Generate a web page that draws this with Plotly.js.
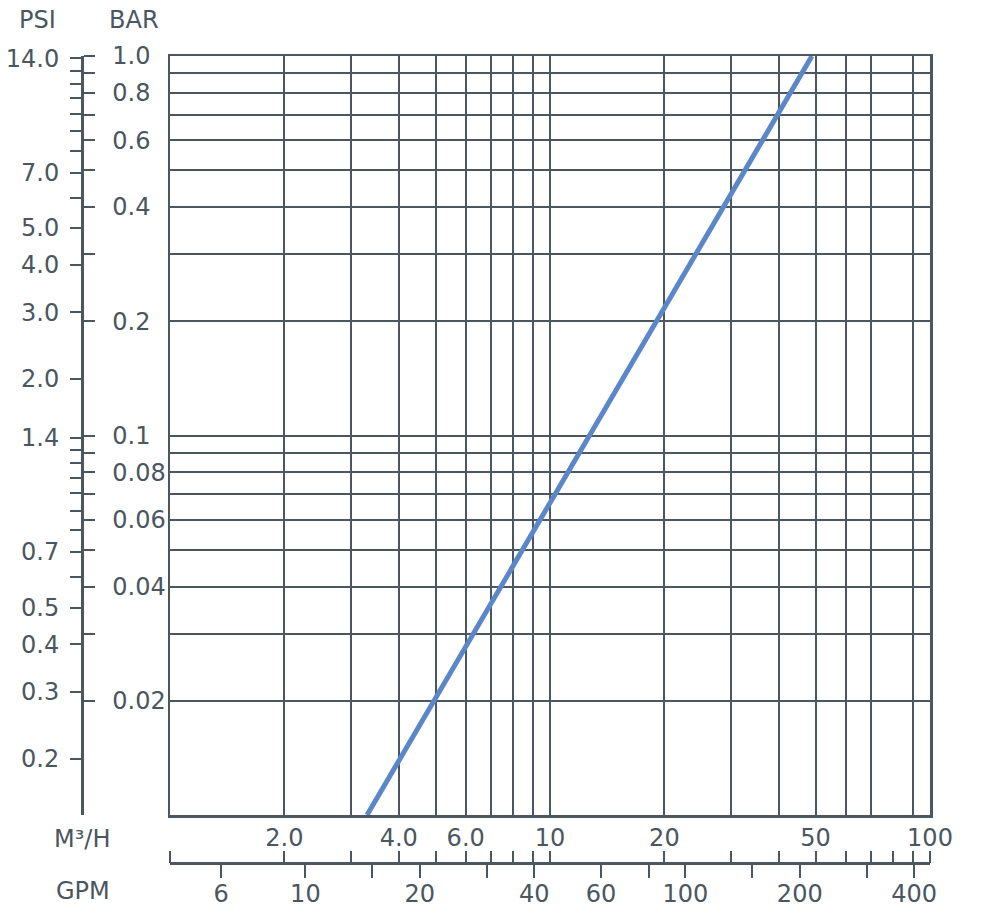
<!DOCTYPE html>
<html>
<head>
<meta charset="utf-8">
<script src="https://cdn.plot.ly/plotly-3.0.1.min.js"></script>
<style>html,body{margin:0;padding:0;background:#fff;}#chart{width:1000px;height:917px;}</style>
</head>
<body>
<div id="chart"></div>
<script>
// ---- data ----
// Flow (m3/h) vs pressure drop (bar): straight line on log-log chart
var flowM3H = [3.3, 48.9];
var dropBar = [0.01, 1.0];

// Axis ranges (linear units)
var flowRange = [1, 100];          // m3/h
var barRange = [0.01, 1.0];        // bar
var GPM_PER_M3H = 4.403;
var PSI_PER_BAR = 14.2;

// Grid lines
var xGridVals = [2, 3, 4, 5, 6, 7, 8, 9, 10, 20, 30, 40, 50, 60, 70, 90, 100];
var yGridVals = [0.02, 0.03, 0.04, 0.05, 0.06, 0.07, 0.08, 0.09, 0.1, 0.2, 0.3, 0.4, 0.5, 0.6, 0.7, 0.8, 0.9, 1.0];

// BAR axis ticks
var barTickVals = [1.0, 0.9, 0.8, 0.7, 0.6, 0.5, 0.4, 0.3, 0.2, 0.1, 0.09, 0.08, 0.07, 0.06, 0.05, 0.04, 0.03, 0.02];
var barTickText = ['1.0', '', '0.8', '', '0.6', '', '0.4', '', '0.2', '0.1', '', '0.08', '', '0.06', '', '0.04', '', '0.02'];

// PSI axis ticks
var psiTickVals = [14, 13, 12, 11, 10, 9, 8, 7, 6, 5, 4, 3, 2, 1.4, 1.3, 1.2, 1.1, 1.0, 0.9, 0.8, 0.7, 0.6, 0.5, 0.4, 0.3, 0.2];
var psiTickText = ['14.0', '', '', '', '', '', '', '7.0', '', '5.0', '4.0', '3.0', '2.0', '1.4', '', '', '', '', '', '', '0.7', '', '0.5', '0.4', '0.3', '0.2'];

// M3/H axis ticks
var m3hTickVals = [1, 2, 3, 4, 5, 6, 7, 8, 9, 10, 20, 30, 40, 50, 60, 70, 80, 90, 100];
var m3hTickText = ['', '2.0', '', '4.0', '', '6.0', '', '', '', '10', '20', '', '', '50', '', '', '', '', '100'];

// GPM axis ticks
var gpmTickVals = [6, 10, 15, 20, 30, 40, 60, 80, 100, 150, 200, 300, 400];
var gpmTickText = ['6', '10', '', '20', '', '40', '60', '', '100', '', '200', '', '400'];

// ---- styling ----
var INK = '#4a5660';
var FONT = {family: 'DejaVu Sans, sans-serif', size: 24, color: INK};
var W = 1000, H = 917;
var M = {l: 40, r: 70, t: 56, b: 40};
var pw = W - M.l - M.r, ph = H - M.t - M.b;
function px(x) { return (x - M.l) / pw; }
function py(y) { return (H - M.b - y) / ph; }
function lg(v) { return Math.log10(v); }

var traces = [
  {x: flowM3H, y: dropBar, xaxis: 'x', yaxis: 'y', type: 'scatter', mode: 'lines',
   line: {color: '#5b87c8', width: 5}, hoverinfo: 'skip', showlegend: false},
  {x: [], y: [], xaxis: 'x2', yaxis: 'y2', type: 'scatter', mode: 'lines', showlegend: false},
  {x: [], y: [], xaxis: 'x3', yaxis: 'y3', type: 'scatter', mode: 'lines', showlegend: false}
];

var layout = {
  width: W, height: H, margin: M,
  paper_bgcolor: '#ffffff', plot_bgcolor: '#ffffff',
  showlegend: false, hovermode: false,
  font: FONT,
  xaxis: {
    type: 'log', range: [lg(flowRange[0]), lg(flowRange[1])], domain: [px(170), 1],
    tickvals: xGridVals, showticklabels: false, ticks: '',
    showgrid: true, gridcolor: INK, gridwidth: 2,
    showline: true, mirror: true, linecolor: INK, linewidth: 2.5, zeroline: false
  },
  yaxis: {
    type: 'log', range: [lg(barRange[0]), lg(barRange[1])], domain: [py(815), 1],
    tickvals: yGridVals, showticklabels: false, ticks: '',
    showgrid: true, gridcolor: INK, gridwidth: 2,
    showline: true, mirror: true, linecolor: INK, linewidth: 2.5, zeroline: false
  },
  yaxis2: {
    type: 'log', range: [lg(barRange[0]), lg(barRange[1])], overlaying: 'y',
    anchor: 'free', position: px(82), side: 'right',
    tickvals: barTickVals, ticktext: barTickText, ticks: 'outside', ticklen: 11,
    tickwidth: 2, tickcolor: INK, showgrid: false, zeroline: false,
    showline: true, linecolor: INK, linewidth: 2.5,
    ticklabelstandoff: 13, tickfont: FONT
  },
  yaxis3: {
    type: 'log', range: [lg(barRange[0] * PSI_PER_BAR), lg(barRange[1] * PSI_PER_BAR)], overlaying: 'y',
    anchor: 'free', position: px(82), side: 'left',
    tickvals: psiTickVals, ticktext: psiTickText, ticks: 'outside', ticklen: 12,
    tickwidth: 2, tickcolor: INK, showgrid: false, zeroline: false, showline: false,
    ticklabelstandoff: 6, tickfont: FONT
  },
  xaxis2: {
    type: 'log', range: [lg(flowRange[0]), lg(flowRange[1])], overlaying: 'x',
    anchor: 'free', position: py(863), side: 'top',
    tickvals: m3hTickVals, ticktext: m3hTickText, ticks: 'outside', ticklen: 12,
    tickwidth: 2, tickcolor: INK, showgrid: false, zeroline: false, showline: false,
    tickangle: 0, tickfont: FONT, ticklabelstandoff: -5
  },
  xaxis3: {
    type: 'log', range: [lg(flowRange[0] * GPM_PER_M3H), lg(flowRange[1] * GPM_PER_M3H)], overlaying: 'x',
    anchor: 'free', position: py(863), side: 'bottom',
    tickvals: gpmTickVals, ticktext: gpmTickText, ticks: 'outside', ticklen: 13,
    tickwidth: 2, tickcolor: INK, showgrid: false, zeroline: false,
    showline: true, linecolor: INK, linewidth: 2.5,
    tickangle: 0, tickfont: FONT, ticklabelstandoff: -4
  },
  annotations: [
    {text: 'PSI', xref: 'paper', yref: 'paper', x: px(37), y: py(20), showarrow: false, xanchor: 'center', yanchor: 'middle', font: FONT},
    {text: 'BAR', xref: 'paper', yref: 'paper', x: px(134), y: py(20), showarrow: false, xanchor: 'center', yanchor: 'middle', font: FONT},
    {text: 'M³/H', xref: 'paper', yref: 'paper', x: px(82), y: py(839), showarrow: false, xanchor: 'center', yanchor: 'middle', font: FONT},
    {text: 'GPM', xref: 'paper', yref: 'paper', x: px(83), y: py(891), showarrow: false, xanchor: 'center', yanchor: 'middle', font: FONT}
  ]
};

Plotly.newPlot('chart', traces, layout, {staticPlot: true, displayModeBar: false});
</script>
</body>
</html>
